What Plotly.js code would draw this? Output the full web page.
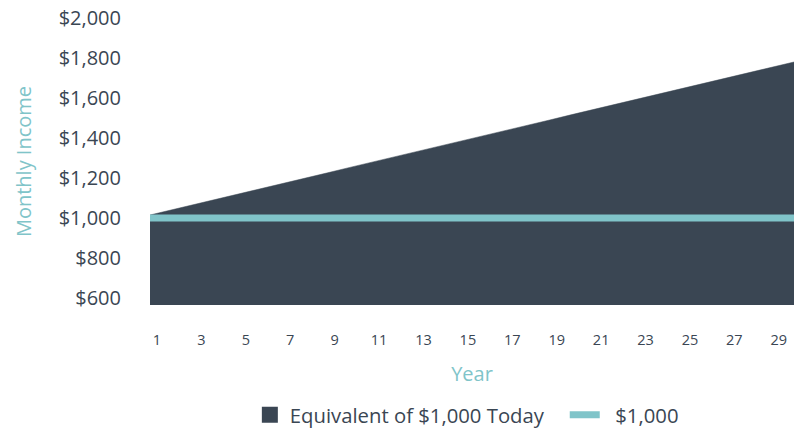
<!DOCTYPE html>
<html>
<head>
<meta charset="utf-8">
<script src="https://cdn.plot.ly/plotly-3.0.1.min.js"></script>
<style>html,body{margin:0;padding:0;background:#fff;}#chart{width:798px;height:431px;}</style>
</head>
<body>
<div id="chart"></div>
<script>
var years = [1,2,3,4,5,6,7,8,9,10,11,12,13,14,15,16,17,18,19,20,21,22,23,24,25,26,27,28,29,30];
var equivalent = [1015,1041,1068,1094,1121,1147,1173,1200,1226,1253,1279,1305,1332,1358,1385,1411,1437,1464,1490,1517,1543,1569,1596,1622,1649,1675,1701,1728,1754,1780];
var flat = [1000,1000,1000,1000,1000,1000,1000,1000,1000,1000,1000,1000,1000,1000,1000,1000,1000,1000,1000,1000,1000,1000,1000,1000,1000,1000,1000,1000,1000,1000];
var xTicks = [1,3,5,7,9,11,13,15,17,19,21,23,25,27,29];
var xTickText = ['1','3','5','7','9','11','13','15','17','19','21','23','25','27','29'];
var yTicks = [600,800,1000,1200,1400,1600,1800,2000];
var yTickText = ['$600','$800','$1,000','$1,200','$1,400','$1,600','$1,800','$2,000'];
var seriesNames = ['Equivalent of $1,000 Today', '$1,000'];

var dark = '#3a4653';
var teal = '#80c4c9';

var traces = [
  {x: years, y: equivalent, type: 'scatter', mode: 'lines', fill: 'tozeroy',
   fillcolor: dark, line: {color: dark, width: 0.5}, name: seriesNames[0],
   showlegend: false, hoverinfo: 'skip'},
  {x: [null], y: [null], type: 'scatter', mode: 'markers',
   marker: {symbol: 'square', size: 16, color: dark},
   name: seriesNames[0] + '\u00a0\u00a0\u00a0', hoverinfo: 'skip'},
  {x: years, y: flat, type: 'scatter', mode: 'lines',
   line: {color: teal, width: 7}, name: '\u00a0\u00a0' + seriesNames[1], hoverinfo: 'skip'}
];

var layout = {
  width: 798, height: 431,
  margin: {l: 150, r: 4, t: 18, b: 126, autoexpand: false},
  paper_bgcolor: '#fff', plot_bgcolor: '#fff',
  font: {family: 'Open Sans, sans-serif', color: dark},
  showlegend: true,
  legend: {orientation: 'h', x: 0.492, xanchor: 'center', xref: 'paper',
           y: 0.037, yanchor: 'middle', yref: 'container',
           font: {size: 20.3, color: dark}, itemsizing: 'trace', tracegroupgap: 0},
  xaxis: {range: [1, 30], tickvals: xTicks, ticktext: xTickText,
          showgrid: false, zeroline: false, showline: false,
          ticks: 'outside', ticklen: 22, tickcolor: 'rgba(0,0,0,0)',
          ticklabelshift: 7,
          tickfont: {size: 14.5, color: dark},
          title: {text: 'Year', font: {size: 20, color: teal}, standoff: 18}},
  yaxis: {range: [565, 2000], tickvals: yTicks, ticktext: yTickText,
          showgrid: false, zeroline: false, showline: false,
          ticks: 'outside', ticklen: 24, tickcolor: 'rgba(0,0,0,0)',
          tickfont: {size: 20, color: dark},
          title: {text: 'Monthly Income', font: {size: 20, color: teal}, standoff: 21}}
};

Plotly.newPlot('chart', traces, layout, {displayModeBar: false, staticPlot: true});
</script>
</body>
</html>
